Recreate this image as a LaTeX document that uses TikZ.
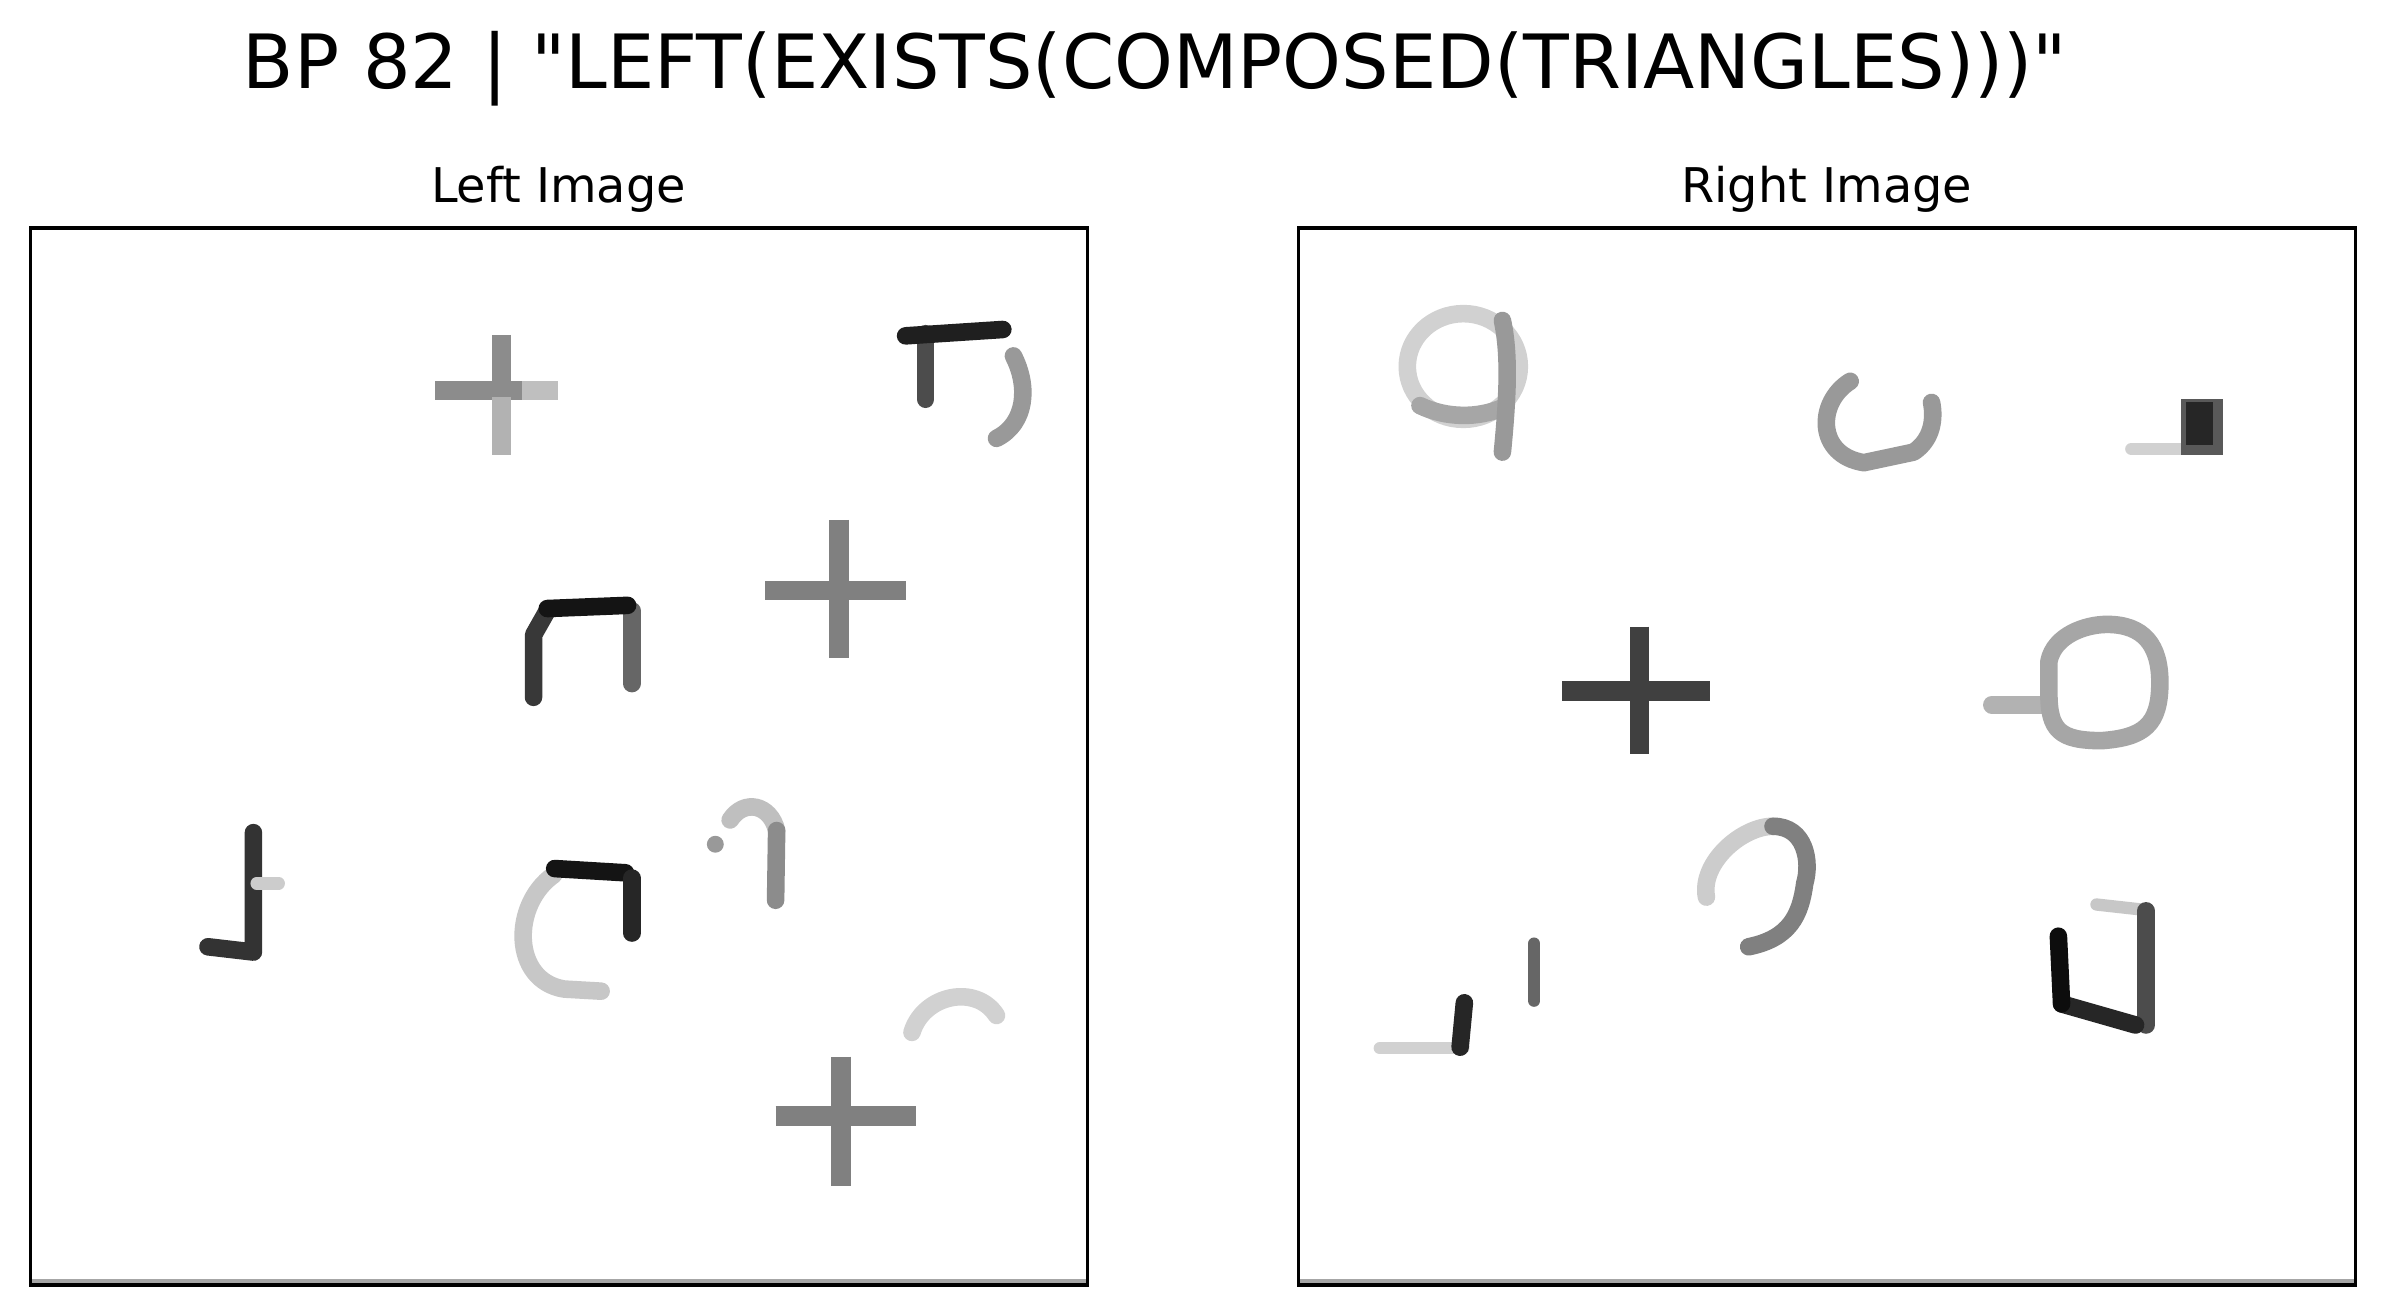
\documentclass[tikz,border=0pt]{standalone}
\usepackage{fontspec}
\setmainfont{DejaVu Sans}[Ligatures=TeXOff]
\begin{document}
\begin{tikzpicture}[x=1cm,y=1cm,
  st/.style={line width=5pt, line cap=round, line join=round},
  bar/.style={line width=5.5pt, line cap=butt},
  thin st/.style={line width=3.5pt, line cap=round, line join=round},
  frame/.style={draw=black, line width=1pt},
  band/.style={draw=black!35, line width=1.6pt}]
\useasboundingbox (0,0) rectangle (23.84,-13.15);
\fill[white] (0,0) rectangle (23.84,-13.15);
\node[anchor=base, inner sep=0pt, font=\fontsize{21.3}{25}\selectfont] (title) at (11.55,-0.88) {BP 82 | "LEFT(EXISTS(COMPOSED(TRIANGLES)))"};
\node[anchor=base, inner sep=0pt, font=\fontsize{13.6}{16}\selectfont] (lefttitle) at (5.585,-2.02) {Left Image};
\node[anchor=base, inner sep=0pt, font=\fontsize{13.6}{16}\selectfont] (righttitle) at (18.267,-2.02) {Right Image};

% ---------------- Left panel ----------------
\begin{scope}[shift={(0.304,-2.28)}, x=10.57cm, y=-10.57cm]
  % cross 1
  \draw[bar, black!25] (0.465,0.154) -- (0.499,0.154);
  \draw[bar, black!45] (0.383,0.154) -- (0.465,0.154);
  \draw[bar, black!30] (0.446,0.16) -- (0.446,0.215);
  \draw[bar, black!45] (0.446,0.101) -- (0.446,0.16);
  % top-right shape
  \draw[st, black!70] (0.847,0.100) -- (0.847,0.162);
  \draw[st, black!88] (0.828,0.102) -- (0.920,0.096);
  \draw[st, black!40] (0.930,0.121) .. controls (0.945,0.150) and (0.942,0.185) .. (0.914,0.199);
  % cross 2
  \draw[bar, black!50] (0.695,0.343) -- (0.828,0.343);
  \draw[bar, black!50] (0.765,0.276) -- (0.765,0.407);
  % arch
  \draw[st, black!60] (0.569,0.362) -- (0.569,0.431);
  \draw[st, black!78] (0.476,0.444) -- (0.476,0.385) -- (0.489,0.362);
  \draw[st, black!92] (0.489,0.360) -- (0.565,0.357);
  % J
  \draw[st, black!80] (0.211,0.572) -- (0.211,0.685) -- (0.168,0.680);
  \draw[thin st, black!20] (0.214,0.620) -- (0.235,0.620);
  % C with dark top
  \draw[st, black!22] (0.495,0.612) .. controls (0.455,0.640) and (0.455,0.712) .. (0.505,0.720) -- (0.540,0.722);
  \draw[st, black!92] (0.496,0.606) -- (0.563,0.610);
  \draw[st, black!85] (0.569,0.615) -- (0.569,0.667);
  % hook
  \draw[st, black!25] (0.662,0.560) .. controls (0.675,0.540) and (0.700,0.545) .. (0.706,0.570);
  \draw[st, black!45] (0.706,0.570) -- (0.705,0.636);
  \fill[black!40] (0.648,0.583) circle (0.008);
  % light arc
  \draw[st, black!18] (0.834,0.761) .. controls (0.845,0.725) and (0.895,0.715) .. (0.914,0.745);
  % cross 3
  \draw[bar, black!50] (0.705,0.840) -- (0.838,0.840);
  \draw[bar, black!50] (0.767,0.784) -- (0.767,0.906);
  % frame
  \draw[band] (0,0.997) -- (1,0.997);
  \draw[frame] (0,0) rectangle (1,1);
\end{scope}

% ---------------- Right panel ----------------
\begin{scope}[shift={(12.984,-2.28)}, x=10.57cm, y=-10.57cm]
  % q
  \draw[st, black!18] (0.156,0.131) ellipse (0.053 and 0.05);
  \draw[st, black!35] (0.115,0.168) .. controls (0.14,0.180) and (0.17,0.180) .. (0.193,0.170);
  \draw[st, black!40] (0.193,0.0875) .. controls (0.200,0.120) and (0.198,0.160) .. (0.193,0.212);
  % U cup
  \draw[st, black!40] (0.522,0.145) .. controls (0.49,0.165) and (0.49,0.215) .. (0.535,0.222) -- (0.582,0.212) .. controls (0.600,0.200) and (0.602,0.180) .. (0.599,0.165);
  % dark square
  \draw[thin st, black!18] (0.788,0.209) -- (0.835,0.209);
  \fill[black!65] (0.835,0.162) rectangle (0.875,0.215);
  \fill[black!85] (0.840,0.165) rectangle (0.865,0.205);
  % dark cross
  \draw[bar, black!75] (0.2495,0.438) -- (0.389,0.438);
  \draw[bar, black!75] (0.323,0.377) -- (0.323,0.498);
  % O with tail
  \draw[st, black!30] (0.656,0.451) -- (0.705,0.451);
  \draw[st, black!35] (0.710,0.410) .. controls (0.715,0.385) and (0.745,0.375) .. (0.765,0.375) .. controls (0.800,0.375) and (0.815,0.395) .. (0.815,0.430) .. controls (0.815,0.470) and (0.800,0.482) .. (0.760,0.485) .. controls (0.720,0.485) and (0.710,0.475) .. (0.710,0.440) -- cycle;
  % hook
  \draw[st, black!20] (0.386,0.633) .. controls (0.380,0.600) and (0.420,0.566) .. (0.449,0.566);
  \draw[st, black!50] (0.449,0.566) .. controls (0.480,0.566) and (0.485,0.600) .. (0.479,0.620) .. controls (0.475,0.650) and (0.465,0.672) .. (0.426,0.680);
  % short dash
  \draw[thin st, black!60] (0.223,0.677) -- (0.223,0.731);
  % L
  \draw[thin st, black!18] (0.077,0.776) -- (0.156,0.776);
  \draw[st, black!85] (0.157,0.733) -- (0.153,0.775);
  % dark U
  \draw[thin st, black!22] (0.755,0.640) -- (0.800,0.645);
  \draw[st, black!70] (0.802,0.646) -- (0.802,0.754);
  \draw[st, black!85] (0.722,0.734) -- (0.792,0.754);
  \draw[st, black!95] (0.719,0.670) -- (0.722,0.734);
  % frame
  \draw[band] (0,0.997) -- (1,0.997);
  \draw[frame] (0,0) rectangle (1,1);
\end{scope}
\end{tikzpicture}
\end{document}
